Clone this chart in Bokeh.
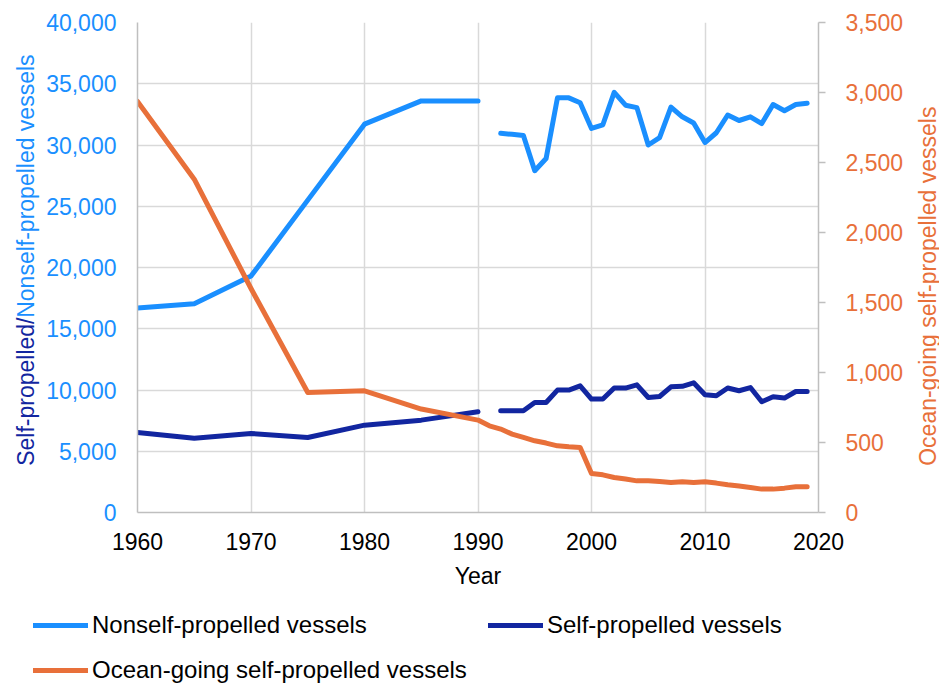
import math
from bokeh.plotting import figure
from bokeh.layouts import row, column
from bokeh.models import (Range1d, LinearAxis, Label, Legend, LegendItem,
                          FixedTicker, NumeralTickFormatter, ColumnDataSource)
from bokeh.embed import file_html
from bokeh.resources import INLINE

# ---------------- data ----------------
years = [1960, 1965, 1970, 1975, 1980, 1985, 1990, 1991,
         1992, 1993, 1994, 1995, 1996, 1997, 1998, 1999, 2000, 2001,
         2002, 2003, 2004, 2005, 2006, 2007, 2008, 2009, 2010, 2011,
         2012, 2013, 2014, 2015, 2016, 2017, 2018, 2019]

nonself_propelled = [16700, 17050, 19300, 25500, 31700, 33600, 33600, None,
                     30950, 30870, 30780, 27900, 28900, 33850, 33850, 33450,
                     31350, 31650, 34300, 33250, 33050, 30000, 30600, 33100,
                     32300, 31800, 30200, 31000, 32450, 32000, 32300, 31750,
                     33300, 32800, 33300, 33400]

self_propelled = [6530, 6070, 6450, 6120, 7130, 7540, 8220, None,
                  8300, 8300, 8300, 8980, 8980, 9990, 9990, 10340,
                  9260, 9260, 10160, 10160, 10420, 9390, 9470, 10260,
                  10300, 10590, 9610, 9530, 10160, 9940, 10200, 9040,
                  9450, 9340, 9880, 9880]

ocean_going = [2936, 2381, 1600, 857, 869, 739, 660, 619,
               596, 560, 536, 512, 496, 476, 469, 464,
               279, 269, 250, 239, 226, 226, 221, 214,
               219, 214, 219, 210, 198, 189, 179, 167,
               167, 174, 184, 184]

x_ticks = [1960, 1970, 1980, 1990, 2000, 2010, 2020]
left_ticks = [0, 5000, 10000, 15000, 20000, 25000, 30000, 35000, 40000]
right_ticks = [0, 500, 1000, 1500, 2000, 2500, 3000, 3500]

series_names = ["Nonself-propelled vessels", "Self-propelled vessels",
                "Ocean-going self-propelled vessels"]
left_title_parts = ["Self-propelled/", "Nonself-propelled vessels"]
right_title = "Ocean-going self-propelled vessels"
x_title = "Year"

# ---------------- style ----------------
LIGHT = "#1A8FFF"
NAVY = "#1226A0"
ORANGE = "#E8703A"
GRID = "#D9D9D9"
AXIS = "#BFBFBF"
FONT = "Liberation Sans"
FS = "23px"
LEG_FS = "24px"

LEFT_W, RIGHT_W, MAIN_H, LEG_H = 40, 30, 600, 84
TOTAL_W = 939
MAIN_W = TOTAL_W - LEFT_W - RIGHT_W
FRAME_L, FRAME_R, FRAME_T, FRAME_B = 137, 818, 22, 512


def nanify(vals):
    return [float("nan") if v is None else v for v in vals]


src = ColumnDataSource(dict(
    year=years,
    nonself=nanify(nonself_propelled),
    selfp=nanify(self_propelled),
    ocean=nanify(ocean_going),
))

p = figure(width=MAIN_W, height=MAIN_H, output_backend="svg", toolbar_location=None,
           x_range=Range1d(x_ticks[0], x_ticks[-1]),
           y_range=Range1d(left_ticks[0], left_ticks[-1]),
           min_border_left=FRAME_L - LEFT_W,
           min_border_right=(TOTAL_W - RIGHT_W) - FRAME_R,
           min_border_top=FRAME_T, min_border_bottom=MAIN_H - FRAME_B)
p.extra_y_ranges = {"ocean": Range1d(right_ticks[0], right_ticks[-1])}
p.outline_line_color = None
p.background_fill_color = "white"
p.border_fill_color = "white"

# grids
p.xgrid.ticker = FixedTicker(ticks=x_ticks)
p.ygrid.ticker = FixedTicker(ticks=left_ticks)
for g in (p.xgrid, p.ygrid):
    g.grid_line_color = GRID
    g.grid_line_width = 1.5


def no_ticks(ax):
    ax.major_tick_out = 0
    ax.major_tick_in = 0
    ax.minor_tick_out = 0
    ax.minor_tick_in = 0


# x axis
xa = p.xaxis[0]
xa.ticker = FixedTicker(ticks=x_ticks)
xa.axis_label = x_title
xa.axis_label_text_font = FONT
xa.axis_label_text_font_size = FS
xa.axis_label_text_font_style = "normal"
xa.axis_label_text_color = "#000000"
xa.axis_label_standoff = 10
xa.major_label_text_font = FONT
xa.major_label_text_font_size = FS
xa.major_label_text_color = "#000000"
xa.major_label_standoff = 20
no_ticks(xa)
xa.axis_line_color = AXIS
xa.axis_line_width = 1.5

# left y axis
ya = p.yaxis[0]
ya.ticker = FixedTicker(ticks=left_ticks)
ya.formatter = NumeralTickFormatter(format="0,0")
ya.major_label_text_font = FONT
ya.major_label_text_font_size = FS
ya.major_label_text_color = LIGHT
ya.major_label_standoff = 21
no_ticks(ya)
ya.axis_line_color = AXIS
ya.axis_line_width = 1.5

# right y axis
ra = LinearAxis(y_range_name="ocean",
                ticker=FixedTicker(ticks=right_ticks),
                formatter=NumeralTickFormatter(format="0,0"))
ra.major_label_text_font = FONT
ra.major_label_text_font_size = FS
ra.major_label_text_color = ORANGE
ra.major_label_standoff = 20
ra.major_tick_out = 7
ra.major_tick_in = 0
ra.major_tick_line_color = AXIS
ra.major_tick_line_width = 1.5
ra.minor_tick_out = 0
ra.minor_tick_in = 0
ra.axis_line_color = AXIS
ra.axis_line_width = 1.5
p.add_layout(ra, "right")

# lines
line_kw = dict(source=src, line_width=5, line_cap="round", line_join="round")
p.line("year", "nonself", line_color=LIGHT, **line_kw)
p.line("year", "selfp", line_color=NAVY, **line_kw)
p.line("year", "ocean", y_range_name="ocean", line_color=ORANGE, **line_kw)


# ---------------- side strips for the axis titles ----------------
def strip(width, height, y_range, top, bottom):
    f = figure(width=width, height=height, output_backend="svg",
               toolbar_location=None, x_range=Range1d(0, 1), y_range=y_range,
               x_axis_location=None, y_axis_location=None,
               min_border_left=0, min_border_right=0,
               min_border_top=top, min_border_bottom=bottom)
    f.grid.visible = False
    f.outline_line_color = None
    f.background_fill_color = "white"
    f.border_fill_color = "white"
    return f


left_fig = strip(LEFT_W, MAIN_H, Range1d(left_ticks[0], left_ticks[-1]),
                 FRAME_T, MAIN_H - FRAME_B)
lx = 25 / LEFT_W
left_fig.add_layout(Label(x=lx, y=3812, text=left_title_parts[0], angle=math.pi / 2,
                          text_align="left", text_baseline="middle",
                          text_font=FONT, text_font_size=FS, text_color=NAVY))
left_fig.add_layout(Label(x=lx, y=15894, text=left_title_parts[1], angle=math.pi / 2,
                          text_align="left", text_baseline="middle",
                          text_font=FONT, text_font_size=FS, text_color=LIGHT))

right_fig = strip(RIGHT_W, MAIN_H, Range1d(left_ticks[0], left_ticks[-1]),
                  FRAME_T, MAIN_H - FRAME_B)
rx = (927 - (TOTAL_W - RIGHT_W)) / RIGHT_W
right_fig.add_layout(Label(x=rx, y=3812, text=right_title, angle=math.pi / 2,
                           text_align="left", text_baseline="middle",
                           text_font=FONT, text_font_size=FS, text_color=ORANGE))

# ---------------- legend strip ----------------
leg_fig = figure(width=TOTAL_W, height=LEG_H, output_backend="svg",
                 toolbar_location=None, x_range=Range1d(0, 1), y_range=Range1d(0, 1),
                 x_axis_location=None, y_axis_location=None,
                 min_border_left=0, min_border_right=0,
                 min_border_top=0, min_border_bottom=0)
leg_fig.grid.visible = False
leg_fig.outline_line_color = None
leg_fig.background_fill_color = "white"
leg_fig.border_fill_color = "white"
# same series, drawn in a strip whose ranges keep them out of view: legend keys only
l_non = leg_fig.line("year", "nonself", line_color=LIGHT, **line_kw)
l_self = leg_fig.line("year", "selfp", line_color=NAVY, **line_kw)
l_ocean = leg_fig.line("year", "ocean", line_color=ORANGE, **line_kw)

legend = Legend(items=[LegendItem(label=series_names[0], renderers=[l_non]),
                       LegendItem(label=series_names[1], renderers=[l_self]),
                       LegendItem(label=series_names[2], renderers=[l_ocean])],
                location=(33, 0), orientation="horizontal", ncols=2,
                label_text_font=FONT, label_text_font_size=LEG_FS,
                label_text_color="#000000",
                glyph_width=55, glyph_height=24, label_height=24,
                label_standoff=4, label_width=379, spacing=17,
                padding=0, margin=0,
                border_line_color=None, background_fill_alpha=0)
leg_fig.add_layout(legend)

layout = column(row(left_fig, p, right_fig), leg_fig)
open("out.html", "w").write(file_html(layout, INLINE))
